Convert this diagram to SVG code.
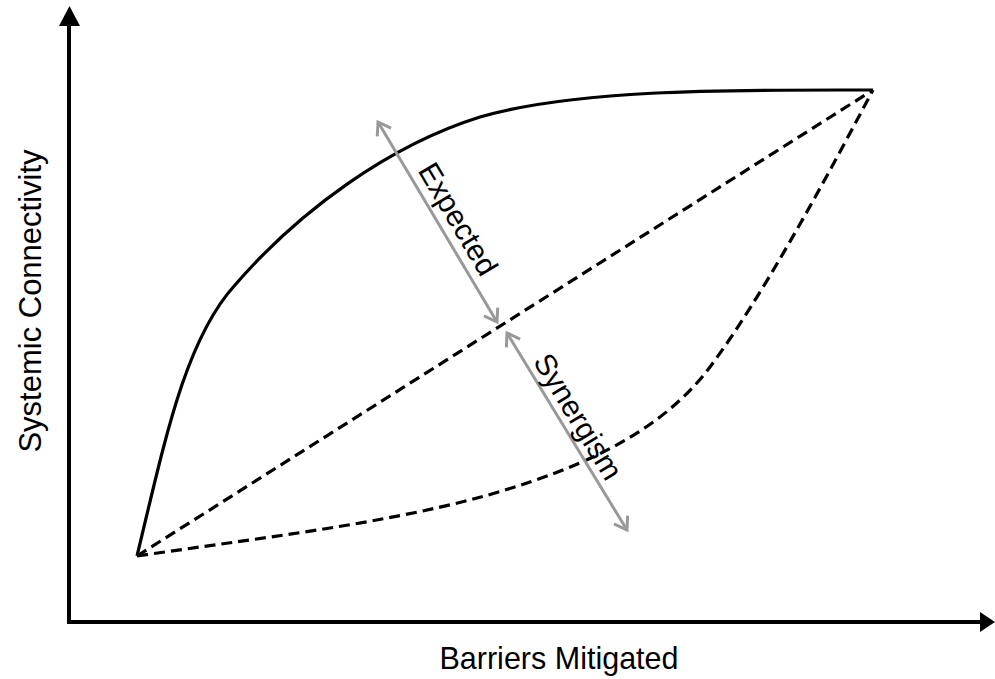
<svg xmlns="http://www.w3.org/2000/svg" width="995" height="679" viewBox="0 0 995 679">
<style>
.axis{stroke:#000;stroke-width:4;fill:none}
.solid{stroke:#000;stroke-width:3.2;fill:none}
.dash{stroke:#000;stroke-width:3.2;fill:none;stroke-dasharray:11 6}
.gray{stroke:#999;stroke-width:3;fill:none}
.lbl{font-family:"Liberation Sans",Arial,sans-serif;font-size:30px;fill:#000}
</style>
<defs>
<marker id="ga" markerWidth="20" markerHeight="20" refX="17" refY="10" orient="auto-start-reverse" markerUnits="userSpaceOnUse" viewBox="0 0 20 20">
<path d="M5,2 L17,10 L5,18" fill="none" stroke="#999" stroke-width="3"/>
</marker>
</defs>
<rect width="995" height="679" fill="#fff"/>
<g id="axes">
<path class="axis" d="M69,622 V24"/>
<path d="M59,26 L69.5,6 L80,26 Z" fill="#000"/>
<path class="axis" d="M67,622 H982"/>
<path d="M980,612 L995,622 L980,632 Z" fill="#000"/>
</g>
<g id="connectors">
<path id="upper-curve" class="solid" d="M137,556 C165,440 185,340 235,285 C300,210 390,145 480,117 C580,88 740,90 873,90"/>
<path id="expected-line" class="dash" d="M137,556 L873,90"/>
<path id="lower-curve" class="dash" d="M137,556 C280,535 420,520 530,482 C610,455 670,420 710,367 C760,300 820,190 873,90"/>
<path id="expected-arrow" class="gray" d="M378,122 L497,322" marker-start="url(#ga)" marker-end="url(#ga)"/>
<path id="synergism-arrow" class="gray" d="M507,333 L627,530" marker-start="url(#ga)" marker-end="url(#ga)"/>
</g>
<g id="label-expected">
<text class="lbl" text-anchor="middle" transform="translate(437.5,222) rotate(59.2)" x="8" y="-9">Expected</text>
</g>
<g id="label-synergism">
<text class="lbl" text-anchor="middle" transform="translate(567,431.5) rotate(58.6)" x="-7" y="-7">Synergism</text>
</g>
<g id="label-y">
<text class="lbl" text-anchor="middle" transform="translate(41,301) rotate(-90)" style="font-size:31px">Systemic Connectivity</text>
</g>
<g id="label-x">
<text class="lbl" text-anchor="middle" x="559" y="669" style="font-size:30.5px">Barriers Mitigated</text>
</g>
</svg>
